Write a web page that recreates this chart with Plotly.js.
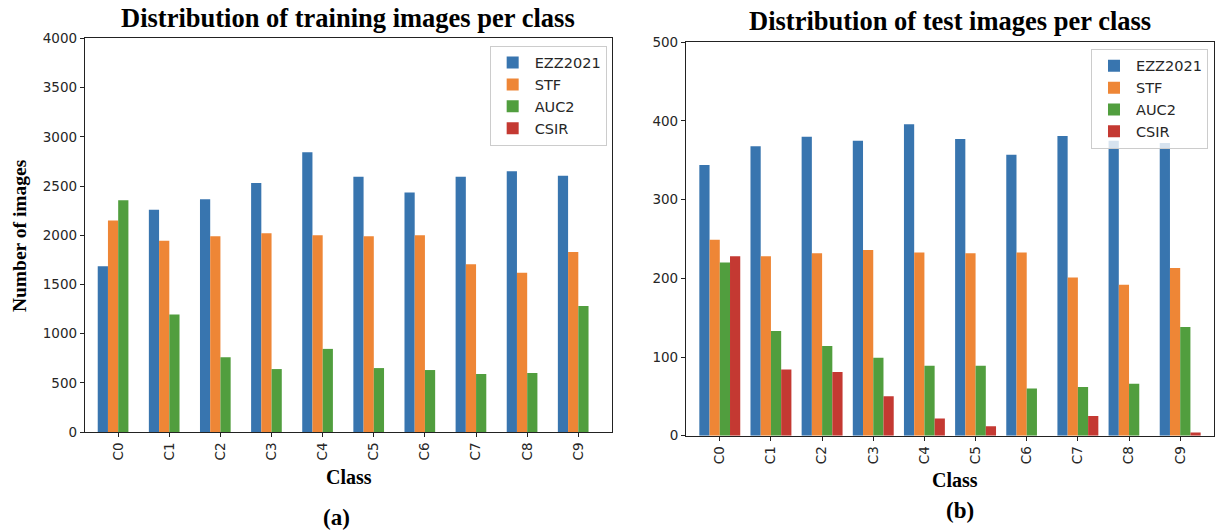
<!DOCTYPE html>
<html>
<head>
<meta charset="utf-8">
<script src="https://cdn.plot.ly/plotly-3.0.1.min.js"></script>
<style>html,body{margin:0;padding:0;background:#fff;}#chart{width:1217px;height:531px;}</style>
</head>
<body>
<div id="chart"></div>
<script>
// ---- data ----
const categories = ['C0','C1','C2','C3','C4','C5','C6','C7','C8','C9'];
const seriesNames = ['EZZ2021','STF','AUC2','CSIR'];
const seriesColors = ['#3875af','#ee8636','#519e3e','#c43932'];

const trainEZZ2021 = [1685, 2260, 2365, 2530, 2845, 2595, 2435, 2595, 2650, 2605];
const trainSTF     = [2150, 1945, 1990, 2020, 2000, 1990, 2000, 1705, 1620, 1830];
const trainAUC2    = [2355, 1195, 760, 640, 845, 650, 630, 590, 600, 1280];
const trainCSIR    = [0, 0, 0, 0, 0, 0, 0, 0, 0, 0];

const testEZZ2021 = [344, 368, 380, 375, 396, 377, 357, 381, 375, 372];
const testSTF     = [249, 228, 232, 236, 233, 232, 233, 201, 192, 213];
const testAUC2    = [220, 133, 114, 99, 89, 89, 60, 62, 66, 138];
const testCSIR    = [228, 84, 81, 50, 22, 12, 0, 25, 0, 4];

const trainTickVals = [0,500,1000,1500,2000,2500,3000,3500,4000];
const testTickVals  = [0,100,200,300,400,500];

const titleTrain = 'Distribution of training images per class';
const titleTest  = 'Distribution of test images per class';
const yLabel = 'Number of images';
const xLabel = 'Class';

// ---- traces ----
const trainSeries = [trainEZZ2021, trainSTF, trainAUC2, trainCSIR];
const testSeries  = [testEZZ2021, testSTF, testAUC2, testCSIR];
const traces = [];
trainSeries.forEach((vals, i) => {
  traces.push({type:'bar', x:categories, y:vals, name:seriesNames[i],
    marker:{color:seriesColors[i], line:{width:0}}, xaxis:'x', yaxis:'y', legend:'legend',
    hoverinfo:'x+y+name'});
});
testSeries.forEach((vals, i) => {
  traces.push({type:'bar', x:categories, y:vals, name:seriesNames[i],
    marker:{color:seriesColors[i], line:{width:0}}, xaxis:'x2', yaxis:'y2', legend:'legend2',
    hoverinfo:'x+y+name'});
});

const tickFont = {family:'DejaVu Sans', size:13.5, color:'#262626'};
const serifBold = (s) => ({family:'Liberation Serif', size:s, color:'#000', weight:'bold'});

const axBase = {
  showline:true, linecolor:'#222', linewidth:1.2, mirror:true,
  ticks:'outside', ticklen:4, tickwidth:1.1, tickcolor:'#222',
  showgrid:false, zeroline:false, tickfont:tickFont, fixedrange:true
};

const legendBase = {
  bgcolor:'rgba(255,255,255,0.8)', bordercolor:'#cccccc', borderwidth:1,
  font:{family:'DejaVu Sans', size:14.5, color:'#262626'},
  xanchor:'right', yanchor:'top', itemwidth:34, tracegroupgap:0
};

const layout = {
  width:1217, height:531,
  margin:{l:0, r:0, t:0, b:0},
  paper_bgcolor:'#fff', plot_bgcolor:'#fff',
  barmode:'group', bargap:0.2, bargroupgap:0,
  showlegend:true,
  xaxis: Object.assign({}, axBase, {domain:[0.0698, 0.5025], anchor:'y', type:'category',
    range:[-0.65, 9.65], tickangle:-90}),
  yaxis: Object.assign({}, axBase, {domain:[0.1864, 0.9275], anchor:'x', range:[0,4000],
    tickvals:trainTickVals}),
  xaxis2: Object.assign({}, axBase, {domain:[0.5637, 0.9975], anchor:'y2', type:'category',
    range:[-0.66, 9.66], tickangle:-90}),
  yaxis2: Object.assign({}, axBase, {domain:[0.1795, 0.9203], anchor:'x2', range:[0,500],
    tickvals:testTickVals}),
  legend: Object.assign({}, legendBase, {x:0.4985, y:0.914}),
  legend2: Object.assign({}, legendBase, {x:0.9926, y:0.908}),
  annotations:[
    {text:titleTrain, xref:'paper', yref:'paper', x:0.2863, y:0.966, xanchor:'center', yanchor:'middle',
     showarrow:false, font:serifBold(26.5)},
    {text:titleTest, xref:'paper', yref:'paper', x:0.7806, y:0.961, xanchor:'center', yanchor:'middle',
     showarrow:false, font:serifBold(26.5)},
    {text:yLabel, xref:'paper', yref:'paper', x:0.0165, y:0.5556, xanchor:'center', yanchor:'middle',
     textangle:-90, showarrow:false, font:serifBold(19.5)},
    {text:xLabel, xref:'paper', yref:'paper', x:0.2868, y:0.1017, xanchor:'center', yanchor:'middle',
     showarrow:false, font:serifBold(20)},
    {text:xLabel, xref:'paper', yref:'paper', x:0.7847, y:0.096, xanchor:'center', yanchor:'middle',
     showarrow:false, font:serifBold(20)},
    {text:'(a)', xref:'paper', yref:'paper', x:0.2769, y:0.0245, xanchor:'center', yanchor:'middle',
     showarrow:false, font:serifBold(23)},
    {text:'(b)', xref:'paper', yref:'paper', x:0.7888, y:0.0377, xanchor:'center', yanchor:'middle',
     showarrow:false, font:serifBold(23)}
  ]
};

Plotly.newPlot('chart', traces, layout, {displayModeBar:false, staticPlot:false, responsive:false});
</script>
</body>
</html>
